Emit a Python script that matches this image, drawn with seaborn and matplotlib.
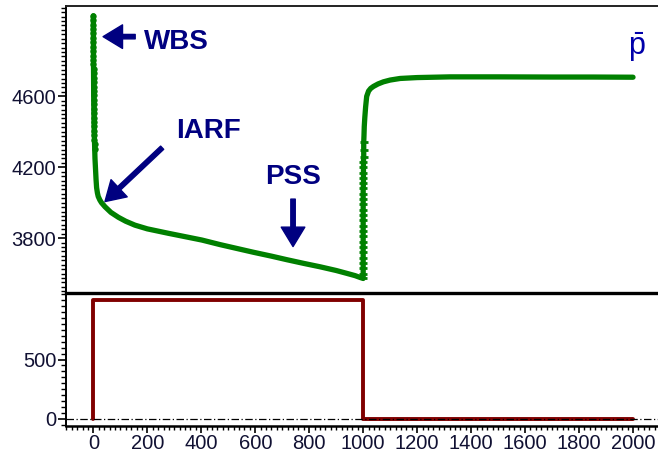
import matplotlib
matplotlib.use("Agg")
import matplotlib.pyplot as plt
import seaborn as sns
import pandas as pd
from matplotlib.ticker import MultipleLocator

# ---------------- data ----------------
# Wellbore storage (early, near-vertical drop at t ~ 0)
wbs_t = [0.0, 0.0, 0.1, 0.1, 0.2, 0.2, 0.3, 0.3, 0.4, 0.4, 0.5, 0.5, 0.6, 0.7,
         0.8, 0.9, 1.0, 1.1, 1.2, 1.4, 1.6, 1.8, 2.0, 2.2, 2.5, 2.8, 3.1, 3.5,
         4.0, 4.5, 5.0]
wbs_p = [5055, 5030, 5005, 4980, 4955, 4930, 4905, 4880, 4855, 4830, 4805,
         4780, 4755, 4730, 4705, 4680, 4655, 4630, 4605, 4580, 4555, 4530,
         4505, 4480, 4455, 4430, 4405, 4380, 4355, 4330, 4305]
# Drawdown (IARF then PSS)
dd_t = [6, 8, 10, 12, 15, 18, 24, 30, 43, 65, 93, 120, 154, 200, 278, 340,
        402, 470, 530, 593, 660, 717, 780, 840, 900, 939, 970, 988, 1000]
dd_p = [4250, 4190, 4130, 4085, 4055, 4035, 4015, 4000, 3977, 3945, 3917,
        3895, 3873, 3852, 3827, 3808, 3789, 3763, 3742, 3720, 3698, 3678,
        3657, 3638, 3617, 3601, 3588, 3578, 3572]
# Build-up: near-vertical rise right after shut-in
bu_rise_t = [1000, 1000, 1000, 1000, 1000, 1000, 1000, 1000, 1000, 1000,
             1000, 1000, 1000, 1000, 1000, 1000, 1000, 1000, 1001, 1001,
             1001, 1001, 1001, 1002, 1002, 1002]
bu_rise_p = [3572, 3600, 3630, 3660, 3690, 3720, 3750, 3780, 3810, 3840,
             3870, 3900, 3930, 3960, 3990, 4020, 4050, 4080, 4110, 4140,
             4170, 4200, 4230, 4260, 4300, 4340]
# Build-up: approach to average pressure
bu_t = [1003, 1004, 1006, 1009, 1013, 1020, 1028, 1038, 1055, 1075, 1100,
        1137, 1200, 1322, 1500, 1700, 1850, 2000]
bu_p = [4380, 4430, 4480, 4540, 4600, 4630, 4645, 4656, 4670, 4682, 4692,
        4701, 4706, 4710, 4710, 4709, 4709, 4708]
# Rate history
rate_t = [0, 0, 1000, 1000, 2000]
rate_q = [0, 1000, 1000, 0, 0]

pres_df = pd.DataFrame({"t": wbs_t + dd_t + bu_rise_t + bu_t,
                        "p": wbs_p + dd_p + bu_rise_p + bu_p})
wbs_df = pd.DataFrame({"t": wbs_t, "p": wbs_p})
rise_df = pd.DataFrame({"t": bu_rise_t, "p": bu_rise_p})
rate_df = pd.DataFrame({"t": rate_t, "q": rate_q})

p_ticks = [3800, 4200, 4600]
q_ticks = [0, 500]
t_ticks = list(range(0, 2001, 200))

# ---------------- style ----------------
sns.set_theme(style="white")
plt.rcParams["font.family"] = ["Liberation Sans", "DejaVu Sans"]
plt.rcParams["mathtext.fontset"] = "custom"
plt.rcParams["mathtext.rm"] = "Liberation Sans"
plt.rcParams["mathtext.it"] = "Liberation Sans"

W, H = 658, 455
fig = plt.figure(figsize=(W / 100, H / 100), dpi=100)
fig.patch.set_facecolor("white")

ax1 = fig.add_axes([66 / W, 162 / H, 592 / W, 287 / H])
ax2 = fig.add_axes([66 / W, 29 / H, 592 / W, 133 / H], sharex=ax1)
ax2.patch.set_visible(False)
ax1.set_zorder(2)
ax1.patch.set_visible(False)

GREEN = "#008000"
DRED = "#800000"
NAVY = "#000080"

sns.lineplot(data=pres_df, x="t", y="p", ax=ax1, sort=False, estimator=None,
             color=GREEN, lw=3.8)
sns.lineplot(data=wbs_df, x="t", y="p", ax=ax1, sort=False, estimator=None,
             color=GREEN, lw=0, marker="o", markersize=4.6,
             markeredgewidth=0, markerfacecolor=GREEN)
sns.lineplot(data=rise_df, x="t", y="p", ax=ax1, sort=False, estimator=None,
             color=GREEN, lw=0, marker="_", markersize=5.2,
             markeredgewidth=2.0, markeredgecolor=GREEN)
sns.lineplot(data=rate_df, x="t", y="q", ax=ax2, sort=False, estimator=None,
             color=DRED, lw=2.8)
ax2.axhline(0, ls="-.", color="black", lw=0.9, dashes=(6, 2, 1, 2))

ax1.set_xlim(-101.4, 2092.6)
ax1.set_ylim(3490, 5110)
ax2.set_ylim(-59, 1059)

for ax in (ax1, ax2):
    ax.set_xlabel("")
    ax.set_ylabel("")
    ax.spines["right"].set_visible(False)
    ax.spines["left"].set_color("black")
    ax.spines["left"].set_linewidth(1.4)

ax1.spines["top"].set_color("#222222")
ax1.spines["top"].set_linewidth(1.4)
ax1.spines["bottom"].set_color("black")
ax1.spines["bottom"].set_linewidth(2.4)
ax2.spines["top"].set_visible(False)
ax2.spines["bottom"].set_color("black")
ax2.spines["bottom"].set_linewidth(1.8)

ax1.yaxis.set_major_locator(plt.FixedLocator(p_ticks))
ax1.yaxis.set_minor_locator(MultipleLocator(25))
ax2.yaxis.set_major_locator(plt.FixedLocator(q_ticks))
ax2.yaxis.set_minor_locator(MultipleLocator(50))
ax2.xaxis.set_major_locator(plt.FixedLocator(t_ticks))
ax2.xaxis.set_minor_locator(MultipleLocator(20))

ax1.tick_params(axis="x", which="both", bottom=False, labelbottom=False)
for ax in (ax1, ax2):
    ax.tick_params(axis="y", which="major", direction="out", length=6,
                   width=1.2, color="black", labelsize=14.5, pad=1,
                   labelcolor="#111133", left=True)
    ax.tick_params(axis="y", which="minor", direction="out", length=3.5,
                   width=1.0, color="black", left=True)
ax2.tick_params(axis="x", which="major", direction="out", length=5,
                width=1.2, color="black", labelsize=14.5, pad=1,
                labelcolor="#111133", bottom=True)
ax2.tick_params(axis="x", which="minor", direction="out", length=3,
                width=1.0, color="black", bottom=True)

# ---------------- annotations ----------------
ann_font = dict(color=NAVY, fontsize=20, fontweight="bold",
                ha="center", va="center")
arrow_kw = dict(width=3.2, headwidth=17, headlength=14, color=NAVY,
                shrink=0.0)

ax1.text(307, 4909, "WBS", **ann_font)
ax1.annotate("", xy=(36, 4937), xytext=(155, 4937), arrowprops=arrow_kw)
ax1.text(425, 4406, "IARF", **ann_font)
ax1.annotate("", xy=(43, 4006), xytext=(255, 4310), arrowprops=arrow_kw)
ax1.text(740, 4147, "PSS", **ann_font)
ax1.annotate("", xy=(740, 3752), xytext=(740, 4020), arrowprops=arrow_kw)
ax1.text(2015, 4880, r"$\bar{\mathrm{p}}$", color="#0000AA", fontsize=22,
         ha="center", va="center")

fig.savefig("out.png", dpi=100, facecolor="white")
